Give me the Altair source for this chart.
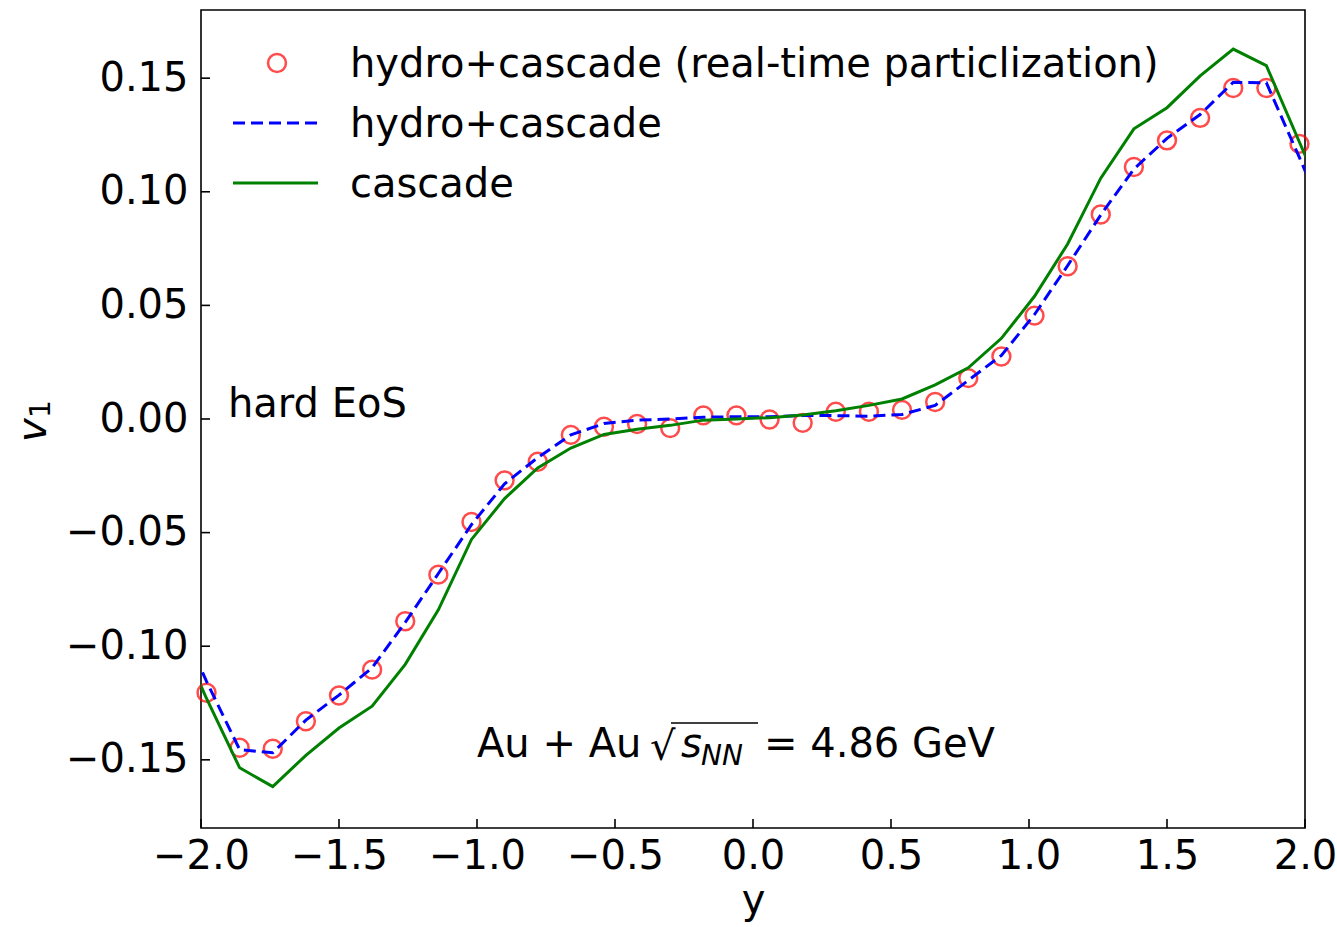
import altair as alt
import pandas as pd

# ---- data ----
y_grid = [-1.98, -1.86, -1.74, -1.62, -1.50, -1.38, -1.26, -1.14, -1.02, -0.90,
          -0.78, -0.66, -0.54, -0.42, -0.30, -0.18, -0.06, 0.06, 0.18, 0.30,
          0.42, 0.54, 0.66, 0.78, 0.90, 1.02, 1.14, 1.26, 1.38, 1.50,
          1.62, 1.74, 1.86, 1.98]

v1_realtime = [-0.1205, -0.1447, -0.1451, -0.1330, -0.1217, -0.1103, -0.0890, -0.0685, -0.0453, -0.0270,
               -0.0188, -0.0070, -0.0034, -0.0022, -0.0040, 0.0016, 0.0016, -0.0002, -0.0017, 0.0032,
               0.0032, 0.0040, 0.0075, 0.0180, 0.0275, 0.0455, 0.0672, 0.0900, 0.1109, 0.1226,
               0.1325, 0.1457, 0.1457, 0.1211]

line_grid = [-2.10] + y_grid + [2.10]

v1_hydro = [-0.0825, -0.1155, -0.1455, -0.1469, -0.1325, -0.1215, -0.1095, -0.0895, -0.0680, -0.0465, -0.0285,
            -0.0170, -0.0070, -0.0020, -0.0005, 0.0000, 0.0008, 0.0010, 0.0010, 0.0015, 0.0015,
            0.0012, 0.0020, 0.0060, 0.0170, 0.0280, 0.0460, 0.0675, 0.0898, 0.1100, 0.1235,
            0.1340, 0.1482, 0.1480, 0.1150, 0.0810]

v1_cascade = [-0.0900, -0.1230, -0.1535, -0.1618, -0.1480, -0.1360, -0.1264, -0.1080, -0.0840, -0.0530, -0.0350,
              -0.0215, -0.0128, -0.0068, -0.0045, -0.0028, -0.0005, 0.0000, 0.0006, 0.0018, 0.0036,
              0.0060, 0.0088, 0.0150, 0.0225, 0.0355, 0.0540, 0.0770, 0.1060, 0.1277, 0.1370,
              0.1510, 0.1628, 0.1555, 0.1218, 0.0880]

x_ticks = [-2.0, -1.5, -1.0, -0.5, 0.0, 0.5, 1.0, 1.5, 2.0]
y_ticks = [-0.15, -0.10, -0.05, 0.00, 0.05, 0.10, 0.15]

legend_labels = ["hydro+cascade (real-time particlization)", "hydro+cascade", "cascade"]

# ---- tables ----
pts = pd.DataFrame({"x": y_grid, "v": v1_realtime})
hyd = pd.DataFrame({"x": line_grid, "v": v1_hydro})
cas = pd.DataFrame({"x": line_grid, "v": v1_cascade})
xt = pd.DataFrame({"x": x_ticks})
yt = pd.DataFrame({"v": y_ticks})
one = pd.DataFrame({"k": [0]})

FONT = "DejaVu Sans"
FS = 40

xscale = alt.Scale(domain=[-2, 2], nice=False, zero=False)
yscale = alt.Scale(domain=[-0.18, 0.18], nice=False, zero=False)

xaxis = alt.Axis(values=x_ticks, format=".1f", ticks=False, domain=False, grid=False,
                 labelFlush=False, labelOverlap=False,
                 labelFontSize=FS, labelFont=FONT, labelColor="black", labelPadding=8,
                 title="y", titleFont=FONT, titleFontSize=FS, titleFontWeight="normal",
                 titleColor="black", titleY=84, titleBaseline="alphabetic")
yaxis = alt.Axis(values=y_ticks, format=".2f", ticks=False, domain=False, grid=False,
                 labelFlush=False, labelOverlap=False,
                 labelFontSize=FS, labelFont=FONT, labelColor="black", labelPadding=13,
                 title="")


def X(field="x"):
    return alt.X(f"{field}:Q", scale=xscale, axis=xaxis)


def Y(field="v"):
    return alt.Y(f"{field}:Q", scale=yscale, axis=yaxis)


circles = alt.Chart(pts).mark_point(shape="circle", filled=False, color="#ff0000",
                                    size=320, strokeWidth=2.5).encode(x=X(), y=Y())
dashed = alt.Chart(hyd).mark_line(color="#0000ff", strokeWidth=3, strokeDash=[12, 6],
                                  clip=True).encode(x=X(), y=Y())
solid = alt.Chart(cas).mark_line(color="#008000", strokeWidth=3, clip=True).encode(x=X(), y=Y())

xtick_rules = alt.Chart(xt).mark_rule(color="black", strokeWidth=1.6).encode(
    x=X(), y=alt.value(818), y2=alt.value(809))
ytick_rules = alt.Chart(yt).mark_rule(color="black", strokeWidth=1.6).encode(
    y=Y(), x=alt.value(0), x2=alt.value(9))

# ---- legend (drawn inside the plot, upper left) ----
leg_circle = alt.Chart(one).mark_point(shape="circle", filled=False, color="#ff0000",
                                       size=320, strokeWidth=2.5).encode(
    x=alt.value(76), y=alt.value(53))
leg_dash = alt.Chart(one).mark_rule(color="#0000ff", strokeWidth=3, strokeDash=[12, 6]).encode(
    x=alt.value(32), x2=alt.value(117), y=alt.value(113))
leg_solid = alt.Chart(one).mark_rule(color="#008000", strokeWidth=3).encode(
    x=alt.value(32), x2=alt.value(117), y=alt.value(173))


def label(text, x, y, size=FS, style="normal", angle=0):
    return alt.Chart(one).mark_text(text=text, align="left", baseline="alphabetic",
                                    font=FONT, fontSize=size, fontStyle=style, angle=angle,
                                    color="black").encode(x=alt.value(x), y=alt.value(y))


leg_texts = [label(t, 149, 67 + 60 * i) for i, t in enumerate(legend_labels)]

# ---- y-axis title v_1 (italic v, upright subscript 1), rotated ----
v_title = label("v", -155, 432, style="italic", angle=270)
v_sub = label("1", -151, 408, size=28, angle=270)

# ---- annotations ----
hard = label("hard EoS", 27, 407)
au = label("Au + Au", 276, 747)
sqrt_sign = label("√", 449, 750)
overline = alt.Chart(one).mark_rule(color="black", strokeWidth=1.6).encode(
    x=alt.value(470), x2=alt.value(557), y=alt.value(713))
s_var = label("s", 480, 747, style="italic")
nn_sub = label("NN", 500, 755, size=28, style="italic")
eq = label("= 4.86 GeV", 563, 747)

chart = alt.layer(
    circles, dashed, solid, xtick_rules, ytick_rules,
    leg_circle, leg_dash, leg_solid, *leg_texts,
    v_title, v_sub,
    hard, au, sqrt_sign, overline, s_var, nn_sub, eq,
).properties(
    width=1104, height=818,
    padding={"left": 201, "top": 10, "right": 32, "bottom": 99},
    autosize=alt.AutoSizeParams(type="none"),
    background="white",
).configure_view(stroke="black", strokeWidth=1.6)

chart.save("out.html", embed_options={"renderer": "svg", "actions": False})
